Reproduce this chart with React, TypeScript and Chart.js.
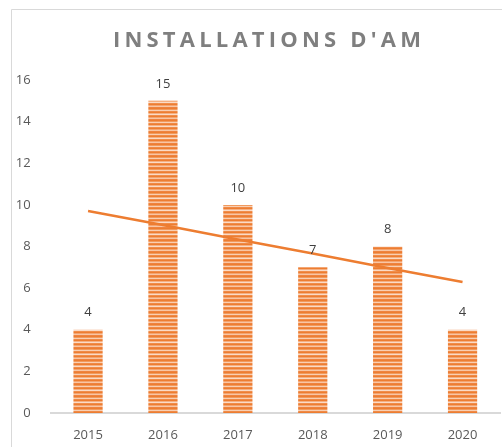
import React, { useEffect, useRef } from "react";
import { Chart, registerables } from "chart.js";

Chart.register(...registerables);

const categories = ["2015", "2016", "2017", "2018", "2019", "2020"];
const installations = [4, 15, 10, 7, 8, 4];
const trendValues = [9.71, 9.03, 8.34, 7.66, 6.97, 6.29];
const titleText = "INSTALLATIONS D'AM";
const yMin = 0;
const yMax = 16;
const yStep = 2;

const stripeColors = [
  "#ED7D31", "#F19A5E", "#F9CFB2", "#EF8A47", "#ED7D31", "#F5B083",
  "#FADBC6", "#F08D4B", "#ED7D31", "#F4A470", "#F8C6A4", "#EE8340",
];

function makePattern(ctx: CanvasRenderingContext2D) {
  const c = document.createElement("canvas");
  c.width = 4;
  c.height = stripeColors.length;
  const g = c.getContext("2d")!;
  stripeColors.forEach((col, i) => {
    g.fillStyle = col;
    g.fillRect(0, i, 4, 1);
  });
  return ctx.createPattern(c, "repeat")!;
}

const framePlugin = {
  id: "frame",
  beforeDraw(chart: any) {
    const ctx = chart.ctx;
    ctx.save();
    ctx.fillStyle = "#ffffff";
    ctx.fillRect(0, 0, chart.width, chart.height);
    ctx.strokeStyle = "#d9d9d9";
    ctx.lineWidth = 1;
    ctx.beginPath();
    ctx.moveTo(11.5, chart.height);
    ctx.lineTo(11.5, 9.5);
    ctx.lineTo(chart.width, 9.5);
    ctx.stroke();
    ctx.restore();
  },
  afterDraw(chart: any) {
    const ctx = chart.ctx;
    ctx.save();
    (ctx as any).letterSpacing = "4.2px";
    ctx.font = "bold 22px 'Open Sans'";
    ctx.fillStyle = "#7f7f7f";
    ctx.textAlign = "center";
    ctx.textBaseline = "middle";
    ctx.fillText(titleText, 269, 41);
    (ctx as any).letterSpacing = "0px";
    // data labels
    const meta = chart.getDatasetMeta(1);
    ctx.font = "13px 'Open Sans'";
    ctx.fillStyle = "#404040";
    meta.data.forEach((el: any, i: number) => {
      ctx.fillText(String(installations[i]), el.x, el.y - 17);
    });
    ctx.restore();
  },
};

export default function App() {
  const ref = useRef<HTMLCanvasElement>(null);
  useEffect(() => {
    const canvas = ref.current!;
    const ctx = canvas.getContext("2d")!;
    const pattern = makePattern(ctx);
    const chart = new Chart(canvas, {
      type: "bar",
      data: {
        labels: categories,
        datasets: [
          {
            type: "line",
            label: "Tendance",
            data: trendValues,
            borderColor: "#ED7D31",
            borderWidth: 2.5,
            pointRadius: 0,
            fill: false,
            order: 0,
          } as any,
          {
            type: "bar",
            label: "Installations",
            data: installations,
            backgroundColor: pattern,
            borderWidth: 0,
            categoryPercentage: 1,
            barPercentage: 0.39,
            order: 1,
          },
        ],
      },
      options: {
        responsive: false,
        animation: false,
        devicePixelRatio: 1,
        layout: { padding: { top: 80, right: 2, left: 0, bottom: 0 } },
        plugins: {
          legend: { display: false },
          title: { display: false },
          tooltip: { enabled: false },
        },
        scales: {
          x: {
            grid: { display: false },
            border: { display: true, color: "#d9d9d9", width: 2 },
            ticks: {
              color: "#595959",
              font: { family: "'Open Sans'", size: 13 },
              padding: 6,
            },
            afterFit: (s: any) => {
              s.height = 34;
            },
          },
          y: {
            min: yMin,
            max: yMax,
            grid: { display: false },
            border: { display: false },
            ticks: {
              stepSize: yStep,
              color: "#595959",
              font: { family: "'Open Sans'", size: 13 },
              padding: 12,
            },
            afterFit: (s: any) => {
              s.width = 50.6;
            },
          },
        },
      },
      plugins: [framePlugin],
    });
    return () => chart.destroy();
  }, []);
  return (
    <div style={{ position: "fixed", left: 0, top: 0, width: 502, height: 447 }}>
      <canvas ref={ref} width={502} height={447} style={{ display: "block", width: 502, height: 447 }} />
    </div>
  );
}
